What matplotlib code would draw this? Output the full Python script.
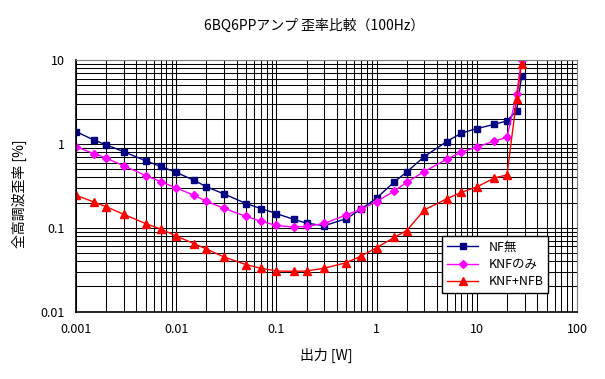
import matplotlib
matplotlib.use("Agg")
import matplotlib.pyplot as plt
from matplotlib.ticker import FixedLocator, NullFormatter, LogLocator

plt.rcParams["font.family"] = ["Noto Sans CJK JP", "DejaVu Sans"]

# output power [W]
power = [0.001, 0.0015, 0.002, 0.003, 0.005, 0.007, 0.01, 0.015, 0.02,
         0.03, 0.05, 0.07, 0.1, 0.15, 0.2, 0.3, 0.5, 0.7, 1, 1.5, 2, 3,
         5, 7, 10, 15, 20, 25, 28]

# THD [%]
nf_none = [1.41, 1.12, 0.98, 0.81, 0.63, 0.54, 0.46, 0.37, 0.31, 0.254,
           0.195, 0.17, 0.148, 0.126, 0.114, 0.106, 0.129, 0.167, 0.227,
           0.353, 0.465, 0.71, 1.07, 1.35, 1.53, 1.72, 1.89, 2.5, 6.45]
knf_only = [0.93, 0.77, 0.68, 0.55, 0.42, 0.356, 0.30, 0.245, 0.208, 0.171,
            0.137, 0.12, 0.107, 0.102, 0.104, 0.113, 0.143, 0.167, 0.206,
            0.275, 0.35, 0.47, 0.66, 0.80, 0.92, 1.09, 1.2, 4.0, 10.0]
knf_nfb = [0.245, 0.204, 0.179, 0.145, 0.112, 0.097, 0.080, 0.065, 0.056,
           0.045, 0.0364, 0.033, 0.0306, 0.0303, 0.0306, 0.033, 0.0385,
           0.046, 0.058, 0.077, 0.093, 0.164, 0.222, 0.265, 0.308, 0.394,
           0.428, 3.45, 9.1]

labels = ["NF無", "KNFのみ", "KNF+NFB"]

x_ticks = [0.001, 0.01, 0.1, 1, 10, 100]
x_tick_labels = ["0.001", "0.01", "0.1", "1", "10", "100"]
y_ticks = [0.01, 0.1, 1, 10]
y_tick_labels = ["0.01", "0.1", "1", "10"]

fig = plt.figure(figsize=(6.05, 3.79), dpi=100)
ax = fig.add_axes([0.1256, 0.1776, 0.8281, 0.6634])

ax.set_xscale("log")
ax.set_yscale("log")

ax.plot(power, nf_none, color="#000080", marker="s", markersize=5,
        linewidth=1, label=labels[0])
ax.plot(power, knf_only, color="#FF00FF", marker="D", markersize=4.5,
        linewidth=1, label=labels[1])
ax.plot(power, knf_nfb, color="#FF0000", marker="^", markersize=5.5,
        linewidth=1, label=labels[2])

ax.set_xlim(0.001, 100)
ax.set_ylim(0.01, 10)

ax.xaxis.set_major_locator(FixedLocator(x_ticks))
ax.set_xticklabels(x_tick_labels)
ax.xaxis.set_minor_locator(LogLocator(base=10, subs=range(2, 10), numticks=20))
ax.xaxis.set_minor_formatter(NullFormatter())

ax.yaxis.set_major_locator(FixedLocator(y_ticks))
ax.set_yticklabels(y_tick_labels)
ax.yaxis.set_minor_locator(LogLocator(base=10, subs=range(2, 10), numticks=20))
ax.yaxis.set_minor_formatter(NullFormatter())

ax.grid(True, which="both", color="black", linewidth=0.75)
ax.set_axisbelow(True)

ax.tick_params(axis="both", which="both", length=0, labelsize=9, pad=8)

for side in ["top", "right"]:
    ax.spines[side].set_color("#808080")
for side in ["left", "bottom"]:
    ax.spines[side].set_color("black")
    ax.spines[side].set_linewidth(1.2)

ax.set_xlabel("出力 [W]", fontsize=10, labelpad=9)
fig.text(
    0.032,
    0.49,
    "全高調波歪率 [%]",
    rotation=90,
    fontsize=10,
    ha="center",
    va="center"
)

fig.text(
    314 / 605,
    1 - 26 / 379,
    "6BQ6PPアンプ 歪率比較（100Hz）",
    fontsize=10,
    ha="center",
    va="center"
)

leg = ax.legend(
    loc="lower right",
    bbox_to_anchor=(0.943, 0.073),
    borderaxespad=0,
    fontsize=9,
    frameon=True,
    fancybox=False,
    edgecolor="black",
    framealpha=1,
    handlelength=2.5,
    labelspacing=0.35,
    borderpad=0.4
)
leg.get_frame().set_linewidth(1)

plt.savefig("out.png", dpi=100)
plt.close()
